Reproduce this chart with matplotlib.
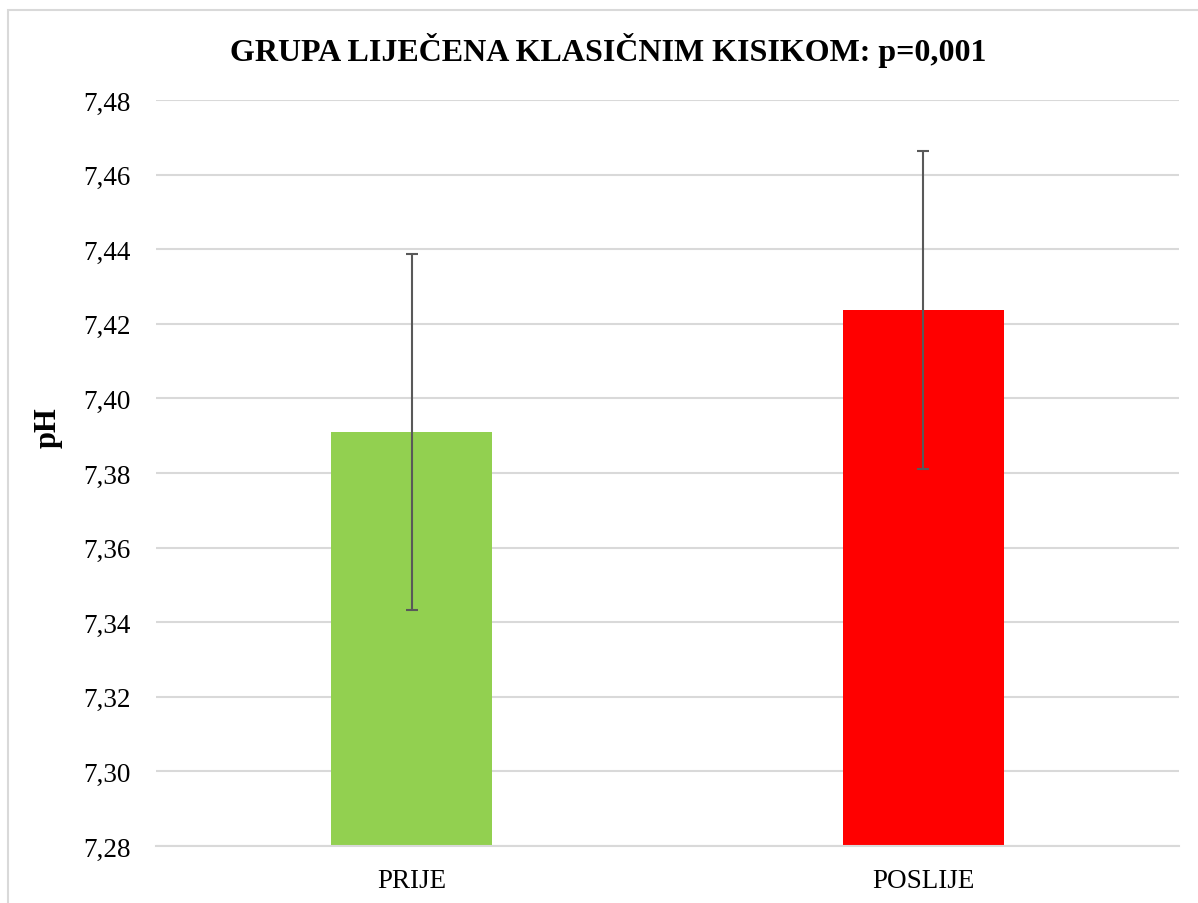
import matplotlib
matplotlib.use("Agg")
import matplotlib.pyplot as plt
from matplotlib.patches import Rectangle
from matplotlib.ticker import FuncFormatter

categories = ["PRIJE", "POSLIJE"]
means = [7.391, 7.4237]
errors = [0.0477, 0.0425]
colors = ["#92d050", "#ff0000"]
title = "GRUPA LIJEČENA KLASIČNIM KISIKOM: p=0,001"
ylabel = "pH"
y_min, y_max, y_step = 7.28, 7.48, 0.02

plt.rcParams['font.family'] = ['Liberation Serif', 'DejaVu Serif']

W, H = 1198, 904
fig = plt.figure(figsize=(W / 100, H / 100), dpi=100)
fig.patch.set_facecolor("white")

# outer frame
fig.add_artist(Rectangle((8 / W, -0.1), 1.2, 1 - 11 / H + 0.1, transform=fig.transFigure,
                         fill=False, edgecolor="#d9d9d9", linewidth=1.5))

left, right, top, bottom = 156, 1179, 101, 847
ax = fig.add_axes([left / W, 1 - bottom / H, (right - left) / W, (bottom - top) / H])

x = list(range(len(categories)))
ax.bar(x, [m - y_min for m in means], bottom=y_min, width=0.315, color=colors, zorder=2)
ax.errorbar(x, means, yerr=errors, fmt="none", ecolor="#595959", elinewidth=1.5,
            capsize=4.5, capthick=1.5, zorder=3)

ax.set_xlim(-0.5, len(categories) - 0.5)
ax.set_ylim(y_min, y_max)
n = int(round((y_max - y_min) / y_step))
ax.set_yticks([y_min + i * y_step for i in range(n + 1)])
ax.yaxis.set_major_formatter(FuncFormatter(lambda v, p: f"{v:.2f}".replace(".", ",")))
ax.set_xticks(x)
ax.set_xticklabels(categories)
ax.tick_params(axis="both", length=0, labelsize=19.5, colors="black")
ax.tick_params(axis="y", pad=18)
ax.tick_params(axis="x", pad=16)
ax.grid(axis="y", color="#d9d9d9", linewidth=1.5, zorder=0)
ax.set_axisbelow(True)
for s in ["top", "right", "left"]:
    ax.spines[s].set_visible(False)
ax.spines["bottom"].set_color("#d9d9d9")
ax.spines["bottom"].set_linewidth(1.5)

fig.text(608 / W, 1 - 50 / H, title, ha="center", va="center", fontsize=23, fontweight="bold")
fig.text(48 / W, 1 - 428 / H, ylabel, ha="center", va="center", rotation=90,
         fontsize=22, fontweight="bold")

fig.savefig("out.png", dpi=100)
